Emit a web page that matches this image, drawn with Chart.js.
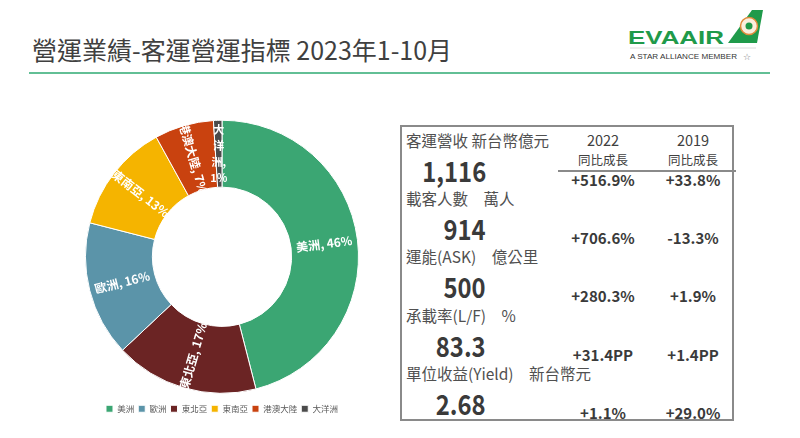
<!DOCTYPE html>
<html>
<head>
<meta charset="utf-8">
<script src="https://cdn.jsdelivr.net/npm/chart.js@4.4.0/dist/chart.umd.min.js"></script>
<style>
  body{margin:0;width:800px;height:438px;background:#fff;position:relative;overflow:hidden;
       font-family:"Noto Sans CJK TC","Noto Sans",sans-serif;color:#404040}
  #title{position:absolute;left:32px;top:31px;font-size:25px;white-space:nowrap;color:#404040}
  #rule{position:absolute;left:29px;top:72px;width:741px;height:2px;background:#62bf95}
  #logo{position:absolute;left:620px;top:5px}
  #chartBox{position:absolute;left:85px;top:113px;width:274px;height:310px}
  #kpi{position:absolute;left:400px;top:125px;width:334px;height:296px;border:2px solid #8a8a8a;box-sizing:border-box}
  .lbl{position:absolute;left:4px;font-size:15.5px;white-space:pre;color:#505050}
  .val{position:absolute;right:246px;font-size:28px;font-weight:bold;white-space:nowrap;color:#3a3a3a;
       transform:scaleX(0.85);transform-origin:right center}
  .g{position:absolute;width:90px;text-align:center;font-size:15px;font-weight:bold;white-space:nowrap;color:#3a3a3a}
  .hd{position:absolute;width:90px;text-align:center;font-size:14.5px;white-space:nowrap;color:#404040}
  .sub{position:absolute;width:90px;text-align:center;font-size:12.5px;white-space:nowrap;color:#404040}
  #hline{position:absolute;left:156px;top:43px;width:178px;height:2px;background:#8a8a8a}
</style>
</head>
<body>
<div id="title">營運業績-客運營運指標 2023年1-10月</div>
<div id="rule"></div>

<svg id="logo" width="160" height="62" viewBox="0 0 160 62">
  <text x="8" y="39" font-family="Liberation Sans, Arial, sans-serif" font-weight="bold" font-size="19"
        fill="#1f9a4a" textLength="96" lengthAdjust="spacingAndGlyphs">EVAAIR</text>
  <polygon points="108,38 132,5 143,5 137,38" fill="#1f9a4a"/>
  <circle cx="129" cy="21" r="8.5" fill="#fbeede" stroke="#e08a3a" stroke-width="1.5"/>
  <circle cx="129" cy="21" r="3.5" fill="#1f9a4a"/>
  <line x1="10" y1="43" x2="136" y2="43" stroke="#dcdcdc" stroke-width="1"/>
  <text x="10" y="54" font-family="Liberation Sans, Arial, sans-serif" font-size="7.6" fill="#333"
        textLength="107" lengthAdjust="spacingAndGlyphs">A STAR ALLIANCE MEMBER</text>
  <text x="123" y="55" font-family="DejaVu Sans, sans-serif" font-size="9" fill="#777">☆</text>
</svg>

<div id="chartBox"><canvas id="pie"></canvas></div>

<div id="kpi"></div>

<script>
// share of passenger revenue by region (%), in drawing order (clockwise from top)
var regions = ["美洲", "東北亞", "歐洲", "東南亞", "港澳大陸", "大洋洲"];
var shares = [46, 17, 16, 13, 7, 1];
var sliceColors = ["#3ba673", "#6b2424", "#5b94a9", "#f5b400", "#c9420f", "#4b4b4b"];
// legend shows a different order than the slices
var legendOrder = ["美洲", "歐洲", "東北亞", "東南亞", "港澳大陸", "大洋洲"];

// KPI table
var metricNames = ["客運營收 新台幣億元", "載客人數\u3000萬人", "運能(ASK)\u3000億公里", "承載率(L/F)\u3000%", "單位收益(Yield)\u3000新台幣元"];
var metricValues = ["1,116", "914", "500", "83.3", "2.68"];
var growth2022 = ["+516.9%", "+706.6%", "+280.3%", "+31.4PP", "+1.1%"];
var growth2019 = ["+33.8%", "-13.3%", "+1.9%", "+1.4PP", "+29.0%"];
var compareYears = ["2022", "2019"];

//building the table on the right
var kpi = document.getElementById("kpi");
var html = "";
html += '<div class="hd" style="left:156px;top:2px">' + compareYears[0] + '</div>';
html += '<div class="hd" style="left:246px;top:2px">' + compareYears[1] + '</div>';
html += '<div class="sub" style="left:156px;top:23px">同比成長</div>';
html += '<div class="sub" style="left:246px;top:23px">同比成長</div>';
html += '<div id="hline"></div>';
for (var i = 0; i < metricNames.length; i++) {
  var rowTop = i * 58.2;
  html += '<div class="lbl" style="top:' + (rowTop + 2) + 'px">' + metricNames[i] + '</div>';
  html += '<div class="val" style="top:' + (rowTop + 23) + 'px">' + metricValues[i] + '</div>';
  html += '<div class="g" style="left:156px;top:' + (rowTop + 42) + 'px">' + growth2022[i] + '</div>';
  html += '<div class="g" style="left:246px;top:' + (rowTop + 42) + 'px">' + growth2019[i] + '</div>';
}
kpi.innerHTML = html;

//labels written along the radius of each slice
var sliceLabels = {
  id: "sliceLabels",
  afterDatasetsDraw: function (chart) {
    var ctx = chart.ctx;
    var meta = chart.getDatasetMeta(0);
    meta.data.forEach(function (arc, i) {
      var p = arc.getProps(["x", "y", "startAngle", "endAngle", "innerRadius", "outerRadius"], true);
      var mid = (p.startAngle + p.endAngle) / 2;
      var r = (p.innerRadius + p.outerRadius) / 2;
      var x = p.x + Math.cos(mid) * r;
      var y = p.y + Math.sin(mid) * r;
      ctx.save();
      ctx.fillStyle = "#ffffff";
      ctx.textAlign = "center";
      ctx.textBaseline = "middle";
      if (shares[i] < 3) {
        // too thin: stack the characters
        ctx.font = "bold 11px 'Noto Sans CJK TC'";
        var lines = regions[i].split("");
        lines[lines.length - 1] += ",";
        lines.push(shares[i] + "%");
        var lh = 16;
        for (var k = 0; k < lines.length; k++) {
          ctx.fillText(lines[k], x, y + (k - (lines.length - 1) / 2) * lh);
        }
      } else {
        var rot = mid + Math.PI;
        while (rot > Math.PI) rot -= 2 * Math.PI;
        if (rot > Math.PI / 2) rot -= Math.PI;
        if (rot < -Math.PI / 2) rot += Math.PI;
        ctx.translate(x, y);
        ctx.rotate(rot);
        ctx.font = "bold 12px 'Noto Sans CJK TC'";
        ctx.fillText(regions[i] + ", " + shares[i] + "%", 0, 0);
      }
      ctx.restore();
    });
  }
};

new Chart("pie", {
  type: "doughnut",
  data: {
    labels: regions,
    datasets: [{
      data: shares,
      backgroundColor: sliceColors,
      borderColor: "#ffffff",
      borderWidth: 1
    }]
  },
  options: {
    responsive: true,
    maintainAspectRatio: false,
    animation: false,
    cutout: "51%",
    layout: { padding: 0 },
    plugins: {
      tooltip: { enabled: false },
      legend: {
        position: "bottom",
        labels: {
          boxWidth: 7,
          boxHeight: 7,
          padding: 4,
          color: "#595959",
          font: { size: 8.5, family: "'Noto Sans CJK TC'" },
          sort: function (a, b) {
            return legendOrder.indexOf(a.text) - legendOrder.indexOf(b.text);
          }
        }
      }
    }
  },
  plugins: [sliceLabels]
});
</script>
</body>
</html>
